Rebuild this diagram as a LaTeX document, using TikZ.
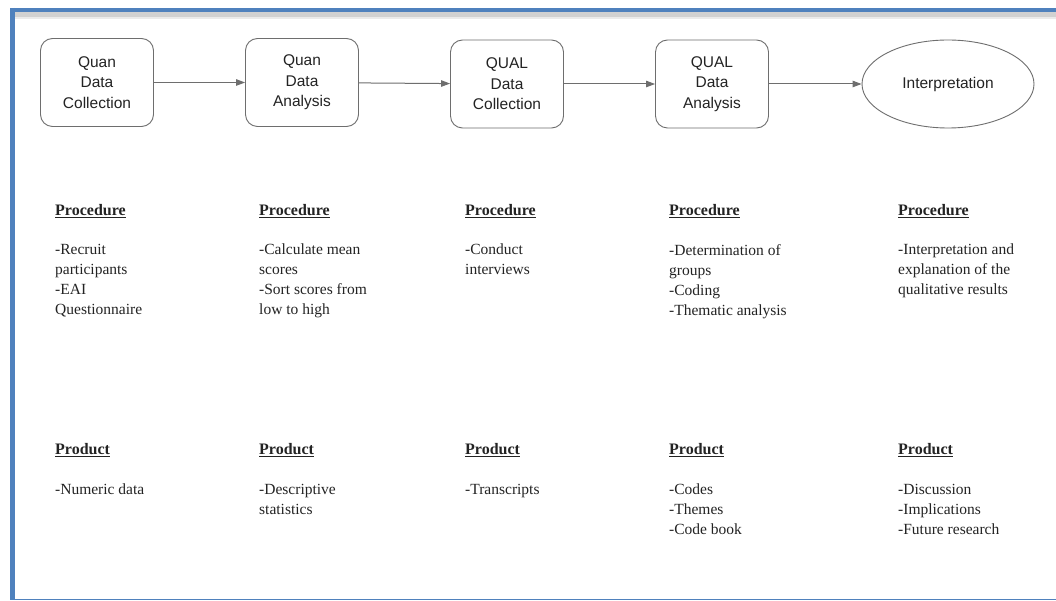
\documentclass[tikz,border=0pt]{standalone}
\usepackage{fontspec}
\setmainfont{Liberation Serif}
\newfontfamily\boxfont{Liberation Sans}
\usetikzlibrary{shapes.geometric,arrows.meta}
\definecolor{frameblue}{RGB}{79,129,189}
\definecolor{linegray}{RGB}{110,110,110}
\definecolor{txt}{RGB}{35,35,35}
\begin{document}
\begin{tikzpicture}[x=1pt,y=-1pt,
  stagebox/.style={draw=linegray,line width=0.9pt,rounded corners=12pt,minimum width=113pt,minimum height=88pt,align=center,font=\boxfont\fontsize{15.5}{20.5}\selectfont,text=txt,inner sep=0pt},
  stageoval/.style={draw=linegray,line width=0.9pt,ellipse,minimum width=172pt,minimum height=88pt,align=center,font=\boxfont\fontsize{15.5}{20.5}\selectfont,text=txt,inner sep=0pt},
  flow/.style={draw=linegray,line width=1pt,-{Triangle[length=9pt,width=6.5pt]}},
  head/.style={anchor=north west,inner sep=0pt,font=\fontsize{16}{20}\selectfont\bfseries,text=txt},
  body/.style={anchor=north west,inner sep=0pt,align=left,font=\fontsize{15.5}{20}\selectfont,text=txt}
]
\useasboundingbox (0,0) rectangle (1056,601);
\fill[white] (0,0) rectangle (1056,601);
% frame
\fill[black!18] (13,12) rectangle (1056,17);
\fill[black!8] (13,17) rectangle (1056,19);
\draw[frameblue,line width=4.5pt] (12,10) -- (1056,10);
\draw[frameblue,line width=4.5pt] (12.5,8) -- (12.5,600);
\draw[frameblue,line width=1.5pt] (12,599.5) -- (1056,599.5);
% stages
\node[stagebox] (s1) at (97,82.5) {Quan\\Data\\Collection};
\node[stagebox] (s2) at (302,82.5) {Quan\\Data\\Analysis};
\node[stagebox] (s3) at (507,84) {QUAL\\Data\\Collection};
\node[stagebox] (s4) at (712,84) {QUAL\\Data\\Analysis};
\node[stageoval] (s5) at (948,84) {Interpretation};
\draw[flow] (s1) -- (s2);
\draw[flow] (s2) -- (s3);
\draw[flow] (s3) -- (s4);
\draw[flow] (s4) -- (s5);
% procedures
\node[head] (p1) at (55,204) {\underline{Procedure}};
\node[head] (p2) at (259,204) {\underline{Procedure}};
\node[head] (p3) at (465,204) {\underline{Procedure}};
\node[head] (p4) at (669,204) {\underline{Procedure}};
\node[head] (p5) at (898,204) {\underline{Procedure}};
\node[body] (b1) at (55,244) {-Recruit\\participants\\-EAI\\Questionnaire};
\node[body] (b2) at (259,244) {-Calculate mean\\scores\\-Sort scores from\\low to high};
\node[body] (b3) at (465,244) {-Conduct\\interviews};
\node[body] (b4) at (669,244) {-Determination of\\groups\\-Coding\\-Thematic analysis};
\node[body] (b5) at (898,244) {-Interpretation and\\explanation of the\\qualitative results};
% products
\node[head] (q1) at (55,443) {\underline{Product}};
\node[head] (q2) at (259,443) {\underline{Product}};
\node[head] (q3) at (465,443) {\underline{Product}};
\node[head] (q4) at (669,443) {\underline{Product}};
\node[head] (q5) at (898,443) {\underline{Product}};
\node[body] (r1) at (55,484) {-Numeric data};
\node[body] (r2) at (259,484) {-Descriptive\\statistics};
\node[body] (r3) at (465,484) {-Transcripts};
\node[body] (r4) at (669,484) {-Codes\\-Themes\\-Code book};
\node[body] (r5) at (898,484) {-Discussion\\-Implications\\-Future research};
\end{tikzpicture}
\end{document}
